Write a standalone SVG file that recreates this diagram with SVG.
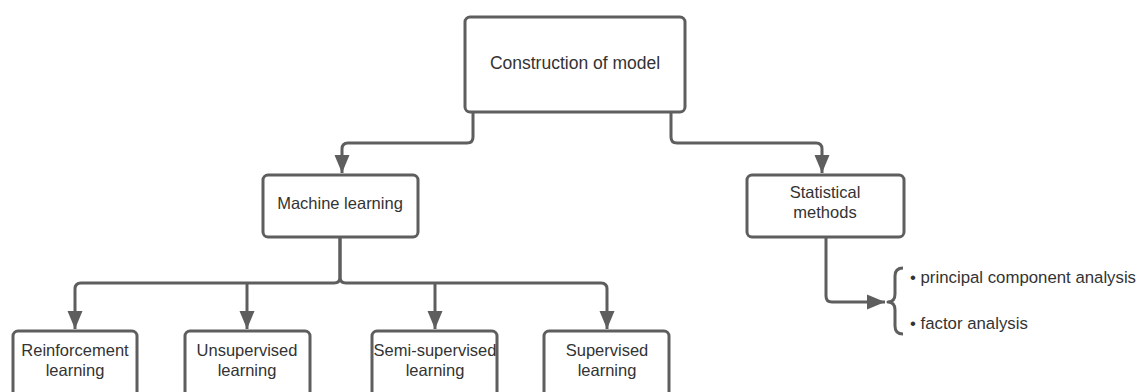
<svg xmlns="http://www.w3.org/2000/svg" width="1144" height="392" viewBox="0 0 1144 392">
  <style>
    .box { fill: #ffffff; stroke: #5e5e5e; stroke-width: 3; }
    .wire { fill: none; stroke: #5e5e5e; stroke-width: 3; stroke-linejoin: round; }
    .label { font-family: "Liberation Sans", Arial, sans-serif; font-size: 16.5px; fill: #333333; text-anchor: middle; }
    .title { font-size: 17.5px; }
    .item { font-family: "Liberation Sans", Arial, sans-serif; font-size: 16.8px; fill: #333333; }
  </style>
  <defs>
    <marker id="arrow" markerUnits="userSpaceOnUse" markerWidth="19" markerHeight="16" viewBox="0 0 19 16" refX="18" refY="8" orient="auto">
      <path d="M0,0.5 L18,8 L0,15.5 Z" fill="#5e5e5e"/>
    </marker>
  </defs>

  <!-- connectors -->
  <g id="connectors">
    <path class="wire" marker-end="url(#arrow)" d="M473,113 V137 Q473,143 467,143 H348 Q342,143 342,149 V173"/>
    <path class="wire" marker-end="url(#arrow)" d="M671,113 V137 Q671,143 677,143 H816 Q822,143 822,149 V173"/>
    <path class="wire" marker-end="url(#arrow)" d="M340,238 V277 Q340,283 334,283 H81 Q75,283 75,289 V329"/>
    <path class="wire" marker-end="url(#arrow)" d="M340,238 V277 Q340,283 346,283 H601 Q607,283 607,289 V329"/>
    <path class="wire" marker-end="url(#arrow)" d="M247,283 V329"/>
    <path class="wire" marker-end="url(#arrow)" d="M435,283 V329"/>
    <path class="wire" marker-end="url(#arrow)" d="M826,238 V296 Q826,302 832,302 H885"/>
    <path class="wire" d="M903,268 Q895,268 895,276 V294 Q895,302 888,302 Q895,302 895,310 V326 Q895,334 903,334"/>
  </g>

  <g id="construction">
    <rect class="box" x="465" y="17" width="220" height="95" rx="5"/>
    <text class="label title" x="575" y="69">Construction of model</text>
  </g>

  <g id="machine-learning">
    <rect class="box" x="263" y="175" width="155" height="62" rx="5"/>
    <text class="label" x="340" y="209">Machine learning</text>
  </g>

  <g id="statistical-methods">
    <rect class="box" x="747" y="175" width="157" height="62" rx="5"/>
    <text class="label" x="825" y="198">Statistical</text>
    <text class="label" x="825" y="218">methods</text>
  </g>

  <g id="methods-list">
    <text class="item" x="910" y="283">• principal component analysis</text>
    <text class="item" x="910" y="329">• factor analysis</text>
  </g>

  <g id="reinforcement">
    <rect class="box" x="13" y="331" width="124" height="75" rx="5"/>
    <text class="label" x="75" y="356">Reinforcement</text>
    <text class="label" x="75" y="376">learning</text>
  </g>

  <g id="unsupervised">
    <rect class="box" x="185" y="331" width="125" height="75" rx="5"/>
    <text class="label" x="247" y="356">Unsupervised</text>
    <text class="label" x="247" y="376">learning</text>
  </g>

  <g id="semi-supervised">
    <rect class="box" x="372" y="331" width="125" height="75" rx="5"/>
    <text class="label" x="435" y="356">Semi-supervised</text>
    <text class="label" x="435" y="376">learning</text>
  </g>

  <g id="supervised">
    <rect class="box" x="544" y="331" width="125" height="75" rx="5"/>
    <text class="label" x="607" y="356">Supervised</text>
    <text class="label" x="607" y="376">learning</text>
  </g>
</svg>
